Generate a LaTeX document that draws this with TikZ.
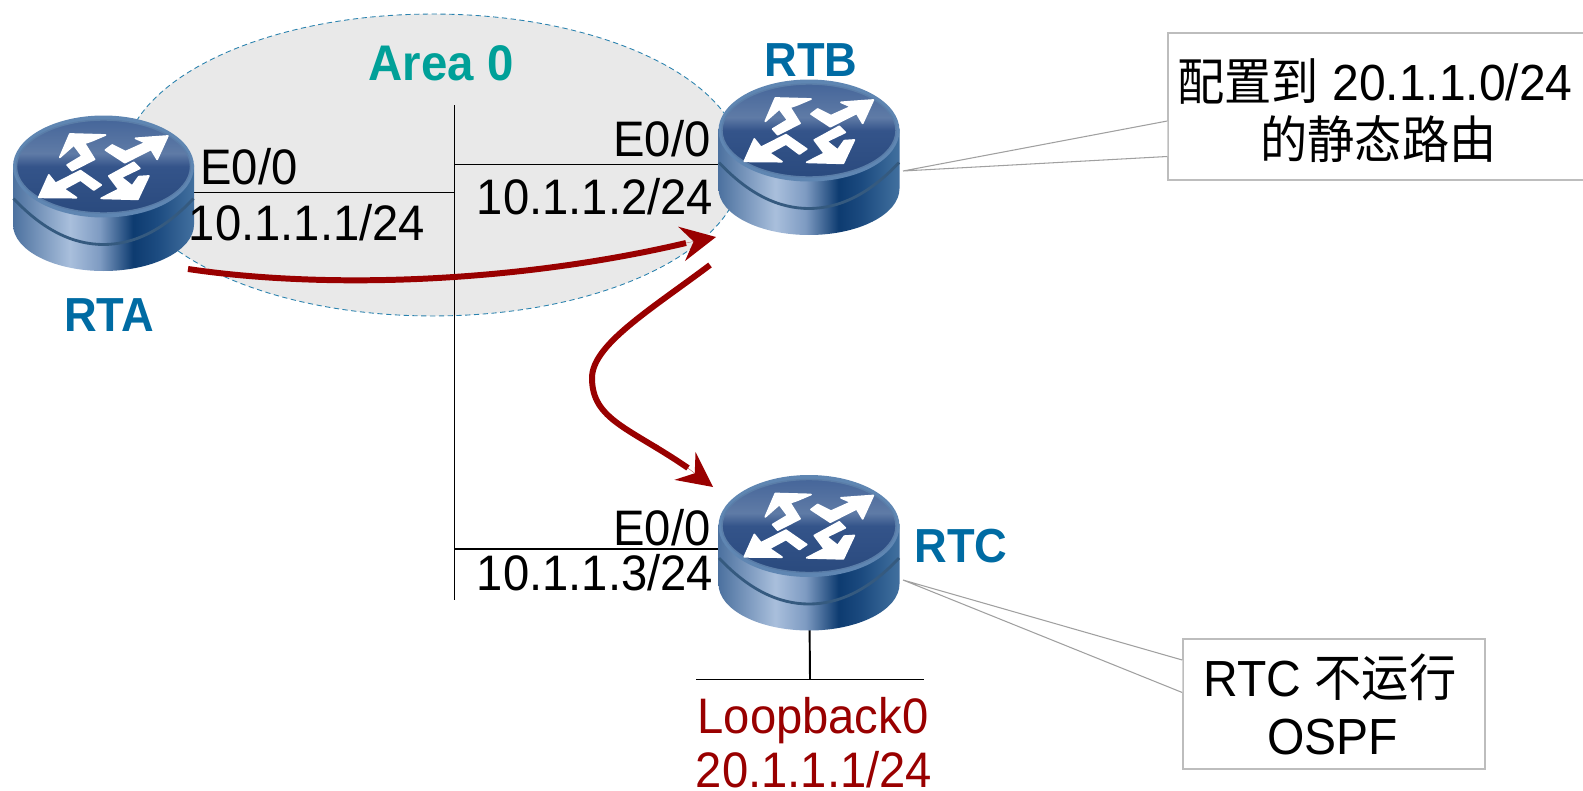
\documentclass[tikz,border=0pt]{standalone}
\usepackage{fontspec}
\setmainfont[FakeStretch=.946]{Liberation Sans}
\newfontfamily\cjk[FakeStretch=.93]{Noto Sans CJK SC}
\usetikzlibrary{arrows.meta,shapes.geometric}
\definecolor{wirered}{HTML}{990000}
\definecolor{areateal}{HTML}{00A098}
\definecolor{nameblue}{HTML}{006BA3}
\definecolor{areafill}{HTML}{E9E9E9}
\definecolor{arealine}{HTML}{2A82AE}
\definecolor{boxgray}{HTML}{BDBDBD}
\definecolor{pointergray}{HTML}{A0A0A0}
\definecolor{sidea}{HTML}{4C719F}
\definecolor{sideb}{HTML}{A9BFDC}
\definecolor{sidec}{HTML}{7E9BC2}
\definecolor{sided}{HTML}{0D3B70}
\definecolor{sidee}{HTML}{1C4B80}
\definecolor{sidef}{HTML}{42709F}
\definecolor{rima}{HTML}{5A7DA8}
\definecolor{rimb}{HTML}{5F86B2}
\definecolor{topa}{HTML}{46669A}
\definecolor{topb}{HTML}{5F7BA6}
\definecolor{topc}{HTML}{34548A}
\definecolor{topd}{HTML}{2A4A7E}
\pgfdeclarehorizontalshading{routerside}{100bp}{color(0bp)=(sidea); color(25bp)=(sidea); color(40.7bp)=(sideb); color(49bp)=(sidec); color(58.2bp)=(sided); color(64.7bp)=(sidee); color(75bp)=(sidef); color(100bp)=(sidef)}
\pgfdeclareverticalshading{routertop}{100bp}{color(0bp)=(topd); color(25bp)=(topd); color(50bp)=(topc); color(57bp)=(topb); color(75bp)=(topa); color(100bp)=(topa)}
\begin{document}
\begin{tikzpicture}[x=0.02cm, y=-0.02cm,
    routerbox/.style={minimum width=3.62cm, minimum height=3.1cm, inner sep=0pt, outer sep=0pt},
    wire/.style={draw=black, line width=1.1pt},
    redpath/.style={draw=wirered, line width=3.4pt},
    redhead/.style={draw=wirered, line width=.1pt,
        -{Stealth[length=20pt, width=20pt, inset=7pt, line width=0pt]}},
    lbl/.style={anchor=base, inner sep=0pt, font=\fontsize{28.4}{33}\selectfont},
    bold name/.style={anchor=base, inner sep=0pt, text=nameblue, font=\fontsize{27.2}{32}\selectfont\bfseries},
    notebox/.style={draw=boxgray, line width=.9pt, fill=white, inner sep=0pt},
    notetext/.style={inner sep=0pt, align=center, font=\fontsize{28.9}{32.9}\selectfont},
    notepointer/.style={draw=pointergray, line width=.6pt, fill=white},
    icon arrow/.style={white, line width=1pt, line join=round},
    router/.pic={
        \shade[shading=routerside] (-90.5,-28) -- (-90.5,32) arc[start angle=180, end angle=0, x radius=90.5, y radius=46.5] -- (90.5,-28) -- cycle;
        \draw[sidef!80!black, line width=1.6pt] (-90,6) .. controls (-60,38) and (-30,52) .. (0,52) .. controls (30,52) and (60,38) .. (90,6);
        \fill[rimb] (0,-26) ellipse[x radius=90.5, y radius=51];
        \shade[shading=routertop] (0,-26) ellipse[x radius=87, y radius=46.5];
        \draw[rima, line width=.8pt] (0,-26) ellipse[x radius=87, y radius=46.5];
        \begin{scope}[shift={(-73,-72.5)}, scale=.3333]
            \filldraw[icon arrow] (118,42) -- (225,45) -- (185,62) -- (162,70) -- (192,118) -- (125,152) -- (110,135) -- (155,108) -- (130,75) -- (88,112) -- cycle;
            \filldraw[icon arrow] (412,48) -- (380,118) -- (362,88) -- (283,128) -- (225,90) -- (245,75) -- (285,95) -- (345,68) -- (315,55) -- cycle;
            \filldraw[icon arrow] (25,232) -- (55,165) -- (75,190) -- (150,152) -- (212,195) -- (190,210) -- (150,180) -- (100,207) -- (138,233) -- cycle;
            \filldraw[icon arrow] (322,238) -- (212,235) -- (265,208) -- (235,168) -- (310,127) -- (328,145) -- (272,172) -- (305,198) -- (325,170) -- (355,168) -- cycle;
        \end{scope}
    }]
    \useasboundingbox (0,0) rectangle (1583,791);

    \node[ellipse, draw=arealine, densely dashed, line width=.5pt, fill=areafill,
        minimum width=12.4cm, minimum height=6.04cm, inner sep=0pt] (area) at (433,165) {};

    \coordinate (bustop) at (454.5,105);
    \coordinate (busbot) at (454.5,600);
    \coordinate (busb) at (454.5,164.5);
    \coordinate (busc) at (454.5,549);
    \coordinate (loopl) at (696,679.5);
    \coordinate (loopr) at (924,679.5);
    \coordinate (loopm) at (810,679.5);
    \coordinate (tipb) at (903,171);
    \coordinate (tipc) at (903,580);

    \foreach \n/\x/\y in {rta/103.5/192.5, rtb/809/156.5, rtc/809/552}{
        \node[routerbox] (\n) at (\x,\y) {};
    };

    \draw[wire] (bustop) -- (busbot);
    \draw[wire] (rta.center) -- (rta.center -| bustop);
    \draw[wire] (busb) -- (busb -| rtb.center);
    \draw[wire] (busc) -- (busc -| rtc.center);
    \draw[wire] (rtc.center) -- (loopm);
    \draw[wire] (loopl) -- (loopr);

    \foreach \n in {rta,rtb,rtc}{
        \pic at (\n) {router};
    };

    \node[lbl, text=areateal, font=\fontsize{28.5}{33}\selectfont\bfseries] (areaname) at (441,80) {Area 0};
    \node[bold name] (rtaname) at (109,331) {RTA};
    \node[bold name] (rtbname) at (811,76.7) {RTB};
    \node[bold name] (rtcname) at (961,562) {RTC};

    \node[lbl] (porta) at (249,184) {E0/0};
    \node[lbl] (ipa) at (307,240) {10.1.1.1/24};
    \node[lbl] (portb) at (662,156.5) {E0/0};
    \node[lbl] (ipb) at (595,214) {10.1.1.2/24};
    \node[lbl] (portc) at (662,545) {E0/0};
    \node[lbl] (ipc) at (595,590.5) {10.1.1.3/24};
    \node[lbl, text=wirered] (loopname) at (813,733.5) {Loopback0};
    \node[lbl, text=wirered] (loopip) at (814,787) {20.1.1.1/24};

    \coordinate (starta) at (188,269);
    \coordinate (linea) at (686,243);
    \coordinate (heada) at (646,251);
    \coordinate (enda) at (716,237);
    \coordinate (startb) at (710,265);
    \coordinate (midb) at (592,378);
    \coordinate (lineb) at (688,468);
    \coordinate (headb) at (656,444);
    \coordinate (endb) at (713,487);
    \draw[redpath] (starta) .. controls (330,290) and (520,282) .. (linea);
    \draw[redhead] (heada) -- (enda);
    \draw[redpath] (startb) .. controls (650,310) and (592,345) .. (midb) .. controls (592,420) and (630,428) .. (lineb);
    \draw[redhead] (headb) -- (endb);

    \node[notebox, minimum width=9.04cm, minimum height=2.94cm] (noteb) at (1394,106.5) {};
    \node[notebox, minimum width=6.04cm, minimum height=2.6cm] (notec) at (1334,704) {};
    \coordinate (notebup) at (noteb.west |- 0,121);
    \coordinate (noteblow) at (noteb.west |- 0,156.5);
    \coordinate (notecup) at (notec.west |- 0,660);
    \coordinate (noteclow) at (notec.west |- 0,692.5);
    \draw[notepointer] (notebup) -- (tipb) -- (noteblow);
    \draw[notepointer] (notecup) -- (tipc) -- (noteclow);
    \node[notetext] (notebtext) at (1375,111) {{\cjk 配置到} 20.1.1.0/24\\\hspace{4pt}{\cjk 的静态路由}};
    \node[notetext] (notectext) at (1330,704) {RTC {\cjk 不运行}\\\hspace{3pt}OSPF};
\end{tikzpicture}
\end{document}
